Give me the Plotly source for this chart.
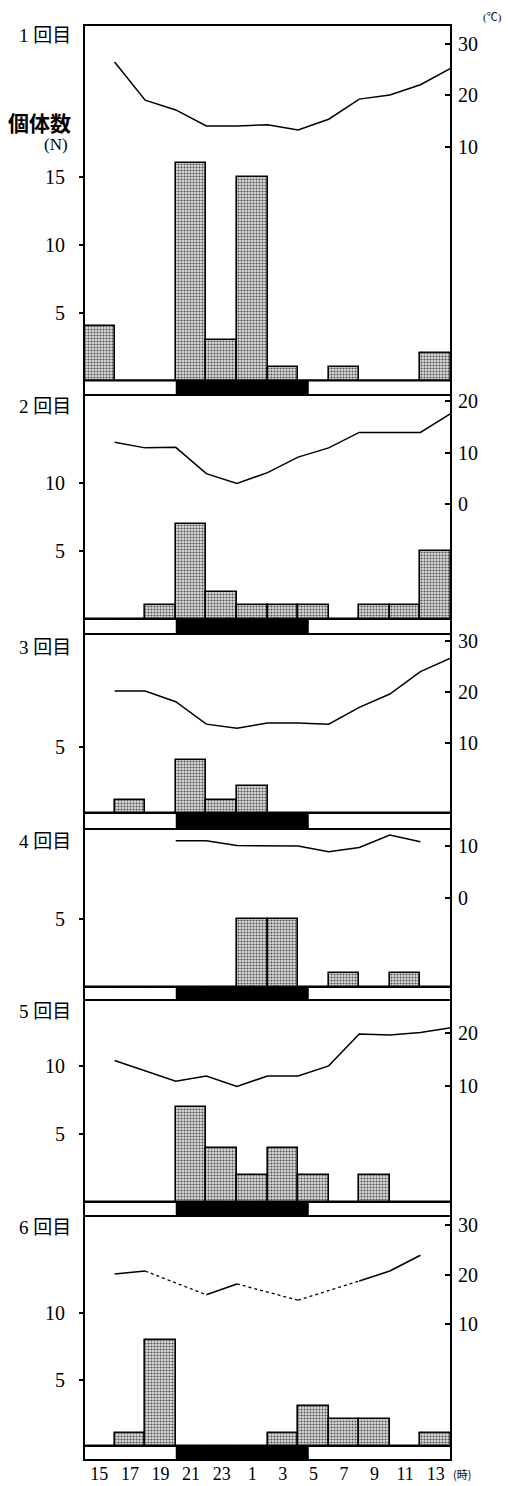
import plotly.graph_objects as go

# ---------------- data ----------------
bin_hours = [15, 17, 19, 21, 23, 25, 27, 29, 31, 33, 35, 37]   # bin centres (hours, continuing past midnight)
tick_labels = ["15", "17", "19", "21", "23", "1", "3", "5", "7", "9", "11", "13"]
temp_hours_full = [16, 18, 20, 22, 24, 26, 28, 30, 32, 34, 36, 38]

counts_1 = [4, 0, 0, 16, 3, 15, 1, 0, 1, 0, 0, 2]
counts_2 = [0, 0, 1, 7, 2, 1, 1, 1, 0, 1, 1, 5]
counts_3 = [0, 1, 0, 4, 1, 2, 0, 0, 0, 0, 0, 0]
counts_4 = [0, 0, 0, 0, 0, 5, 5, 0, 1, 0, 1, 0]
counts_5 = [0, 0, 0, 7, 4, 2, 4, 2, 0, 2, 0, 0]
counts_6 = [0, 1, 8, 0, 0, 0, 1, 3, 2, 2, 0, 1]

temp_1 = [26.4, 19.0, 17.1, 14.0, 14.0, 14.2, 13.2, 15.3, 19.2, 20.0, 22.0, 25.2]
temp_2 = [12.0, 10.9, 11.0, 5.9, 4.0, 6.1, 9.1, 10.9, 13.9, 13.9, 13.9, 17.6]
temp_3 = [20.2, 20.2, 18.1, 13.7, 12.9, 13.9, 13.9, 13.7, 17.0, 19.6, 24.0, 26.7]
temp_hours_4 = [20, 22, 24, 26, 28, 30, 32, 34, 36]
temp_4 = [11.0, 11.0, 10.1, 10.0, 10.0, 8.9, 9.7, 12.1, 10.8]
temp_5 = [14.8, 12.9, 10.9, 11.9, 9.9, 11.9, 11.9, 13.8, 19.8, 19.6, 20.1, 21.0]
temp_hours_6 = [16, 18, 22, 24, 28, 32, 34, 36]
temp_6 = [20.1, 20.7, 15.9, 18.1, 14.8, 18.7, 20.7, 23.9]
segment_style_6 = ["solid", "dot", "solid", "dot", "dot", "solid", "solid"]

night_start, night_end = 20, 28.7   # hours (28.7 = 4:42 next morning)

panel_names = ["1 回目", "2 回目", "3 回目", "4 回目", "5 回目", "6 回目"]
left_ticks = [[5, 10, 15], [5, 10], [5], [5], [5, 10], [5, 10]]
right_ticks = [[10, 20, 30], [0, 10, 20], [10, 20, 30], [0, 10], [10, 20], [10, 20, 30]]

counts = [counts_1, counts_2, counts_3, counts_4, counts_5, counts_6]
temps = [
    (temp_hours_full, temp_1, None),
    (temp_hours_full, temp_2, None),
    (temp_hours_full, temp_3, None),
    (temp_hours_4, temp_4, None),
    (temp_hours_full, temp_5, None),
    (temp_hours_6, temp_6, segment_style_6),
]

# ---------------- layout geometry (pixels) ----------------
W, H = 508, 1486
L, R, T, B = 84, 451, 25, 1460
PW, PH = R - L, B - T
bounds = [25, 395, 634, 829, 1000, 1216, 1460]
baselines = [380.5, 619, 813, 987, 1202, 1446]
cnt_scale = [13.6, 13.6, 13.3, 13.6, 13.6, 13.3]
temp_anchor = [(20, 95, 5.15), (20, 401, 5.15), (30, 641, 5.1),
               (10, 846, 5.2), (20, 1033, 5.3), (30, 1225, 4.95)]
label_y = [35, 407, 647, 841, 1012, 1227]

def py(px):
    return (B - px) / PH

def px_x(px):
    return (px - L) / PW

SERIF = "Liberation Serif"
MIX = "Liberation Serif, Noto Sans CJK JP"

fig = go.Figure()
layout = dict(
    template="none",
    width=W, height=H,
    margin=dict(l=L, r=W - R, t=T, b=H - B, pad=0, autoexpand=False),
    plot_bgcolor="white", paper_bgcolor="white",
    showlegend=False,
    bargap=0,
    xaxis=dict(range=[14, 38], tickvals=bin_hours, ticktext=tick_labels,
               showgrid=False, zeroline=False, showline=False, ticks="",
               automargin=False, anchor="y11", ticklabelstandoff=1,
               tickfont=dict(family=SERIF, size=18, color="black")),
)
shapes = []
annotations = []

for k in range(6):
    nl, nr = 2 * k + 1, 2 * k + 2
    lref = "y" if nl == 1 else f"y{nl}"
    rref = f"y{nr}"
    lkey = "yaxis" if nl == 1 else f"yaxis{nl}"
    rkey = f"yaxis{nr}"
    top, bot = bounds[k], bounds[k + 1]
    base, s = baselines[k], cnt_scale[k]
    ymin, ymax = -(bot - base) / s, (base - top) / s
    tref, pref, ppd = temp_anchor[k]
    t_top = tref - (top - pref) / ppd
    t_bot = tref - (bot - pref) / ppd

    layout[lkey] = dict(domain=[max(0, py(bot)), min(1, py(top))], range=[ymin, ymax],
                        anchor="x", tickvals=left_ticks[k], ticks="outside", ticklen=4,
                        tickwidth=1.5, tickcolor="black", showgrid=False, zeroline=False,
                        showline=False, ticklabelstandoff=10, automargin=False,
                        tickfont=dict(family=SERIF, size=20, color="black"))
    layout[rkey] = dict(overlaying=lref, side="right", anchor="x", range=[t_bot, t_top],
                        tickvals=right_ticks[k], ticks="inside", ticklen=6, tickwidth=1.5,
                        tickcolor="black", showgrid=False, zeroline=False, showline=False,
                        ticklabelstandoff=6, automargin=False,
                        tickfont=dict(family=SERIF, size=20, color="black"))

    fig.add_trace(go.Bar(
        x=bin_hours, y=counts[k], width=2, xaxis="x", yaxis=lref,
        marker=dict(color="#d0d0d0",
                    line=dict(color="black", width=1.6),
                    pattern=dict(shape=".", fgcolor="#505050", bgcolor="#dcdcdc",
                                 size=3, solidity=0.4)),
    ))

    th, tv, styles = temps[k]
    if styles is None:
        fig.add_trace(go.Scatter(x=th, y=tv, mode="lines", xaxis="x", yaxis=rref,
                                 line=dict(color="black", width=1.5)))
    else:
        for i, st in enumerate(styles):
            fig.add_trace(go.Scatter(x=th[i:i + 2], y=tv[i:i + 2], mode="lines",
                                     xaxis="x", yaxis=rref,
                                     line=dict(color="black", width=1.6 if st == "solid" else 1.3,
                                               dash=st)))

    # night strip
    shapes.append(dict(type="rect", xref="x", yref=lref, x0=night_start, x1=night_end,
                       y0=ymin, y1=0, fillcolor="black", line=dict(width=0), layer="above"))
    shapes.append(dict(type="line", xref="paper", yref=lref, x0=0, x1=1, y0=0, y1=0,
                       line=dict(color="black", width=2), layer="above"))
    shapes.append(dict(type="rect", xref="paper", yref=f"{lref} domain", x0=0, x1=1,
                       y0=0, y1=1, line=dict(color="black", width=2), layer="above"))

    annotations.append(dict(text=panel_names[k], xref="paper", yref="paper",
                            x=px_x(73), y=py(label_y[k]), xanchor="right", yanchor="middle",
                            showarrow=False, font=dict(family=MIX, size=19, color="black")))

annotations.append(dict(text="<b>個体数</b>", xref="paper", yref="paper", x=px_x(73), y=py(122),
                        xanchor="right", yanchor="middle", showarrow=False,
                        font=dict(family="Noto Sans CJK JP", size=21, color="black")))
annotations.append(dict(text="(N)", xref="paper", yref="paper", x=px_x(56), y=py(145),
                        xanchor="center", yanchor="middle", showarrow=False,
                        font=dict(family=SERIF, size=17, color="black")))
annotations.append(dict(text="(℃)", xref="paper", yref="paper", x=px_x(493), y=py(17),
                        xanchor="center", yanchor="middle", showarrow=False,
                        font=dict(family=MIX, size=11, color="black")))
annotations.append(dict(text="(時)", xref="paper", yref="paper", x=px_x(462), y=py(1474),
                        xanchor="center", yanchor="middle", showarrow=False,
                        font=dict(family="Noto Sans CJK JP", size=11, color="black")))

layout["shapes"] = shapes
layout["annotations"] = annotations
fig.update_layout(**layout)
fig.write_html("out.html", config={"displayModeBar": False},
               post_script="document.body.style.margin='0';document.body.style.padding='0';")
